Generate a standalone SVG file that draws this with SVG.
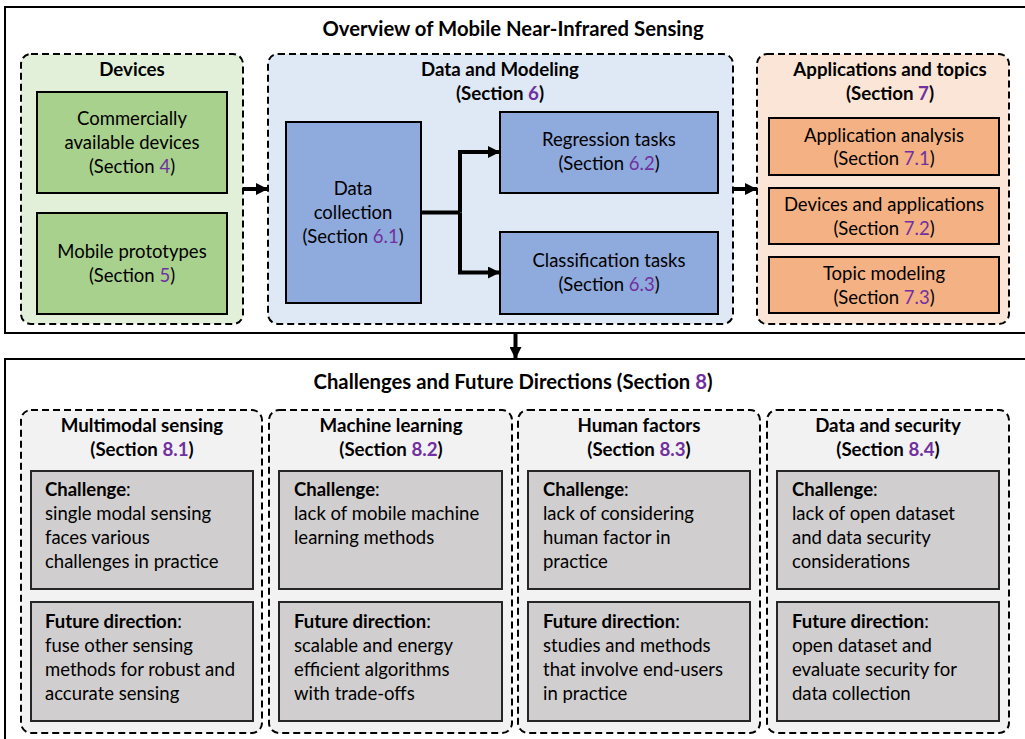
<svg xmlns="http://www.w3.org/2000/svg" width="1025" height="739" viewBox="0 0 1025 739">
<style>
text{font-family:Lato,"Liberation Sans",sans-serif;fill:#000;}
.t{font-size:18.5px;}
.c{text-anchor:middle;}
.b{font-weight:bold;}
.h{font-size:18.7px;font-weight:bold;}
.big{font-size:20.3px;}
.p{fill:#7030a0;}
.outer{fill:#fff;stroke:#000;stroke-width:2;}
.grp{stroke:#000;stroke-width:2;stroke-dasharray:7 4;}
.box{stroke:#000;stroke-width:2;}
.g1{fill:#e2f0d9;}.g2{fill:#dee9f5;}.g3{fill:#fbe5d6;}.g4{fill:#f2f2f2;}
.green{fill:#a9d18e;}.blue{fill:#8faadc;}.orange{fill:#f4b183;}.gray{fill:#d0cece;stroke:#262626;}
.ln{fill:none;stroke:#000;stroke-width:4;}
</style>
<defs>
<marker id="ah" viewBox="0 0 10 10" refX="10" refY="5" markerWidth="3" markerHeight="3" orient="auto" markerUnits="strokeWidth">
<path d="M0,0 L10,5 L0,10 z" fill="#000"/>
</marker>
</defs>
<rect width="1025" height="739" fill="#fff"/>
<g id="overview">
<rect class="outer" x="5" y="7" width="1030" height="326"/>
<text class="h c big" x="513" y="35.5">Overview of Mobile Near-Infrared Sensing</text>
</g>
<g id="devices">
<rect class="grp g1" x="21" y="54" width="222" height="270" rx="10"/>
<text class="h c" x="132" y="76">Devices</text>
</g>
<g id="commercial">
<rect class="box green" x="37" y="92" width="190" height="101"/>
<text class="t c" x="132" y="125">Commercially</text>
<text class="t c" x="132" y="148.5">available devices</text>
<text class="t c" x="132" y="172.5">(Section <tspan class="p">4</tspan>)</text>
</g>
<g id="prototypes">
<rect class="box green" x="37" y="213" width="190" height="101"/>
<text class="t c" x="132" y="257.5">Mobile prototypes</text>
<text class="t c" x="132" y="281.5">(Section <tspan class="p">5</tspan>)</text>
</g>
<g id="datamodeling">
<rect class="grp g2" x="268" y="54" width="465" height="270" rx="10"/>
<text class="h c" x="500" y="76">Data and Modeling</text>
<text class="h c" x="500" y="99.5">(Section <tspan class="p">6</tspan>)</text>
</g>
<g id="datacollection">
<rect class="box blue" x="286" y="122" width="135" height="181"/>
<text class="t c" x="353" y="195">Data</text>
<text class="t c" x="353" y="219">collection</text>
<text class="t c" x="353" y="242.5">(Section <tspan class="p">6.1</tspan>)</text>
</g>
<g id="regression">
<rect class="box blue" x="500" y="112" width="218" height="81"/>
<text class="t c" x="609" y="146">Regression tasks</text>
<text class="t c" x="609" y="170">(Section <tspan class="p">6.2</tspan>)</text>
</g>
<g id="classification">
<rect class="box blue" x="500" y="232" width="218" height="82"/>
<text class="t c" x="609" y="266.5">Classification tasks</text>
<text class="t c" x="609" y="290.5">(Section <tspan class="p">6.3</tspan>)</text>
</g>
<g id="applications">
<rect class="grp g3" x="757" y="54" width="252" height="270" rx="10"/>
<text class="h c" x="890" y="76">Applications and topics</text>
<text class="h c" x="890" y="99.5">(Section <tspan class="p">7</tspan>)</text>
</g>
<g id="appanalysis">
<rect class="box orange" x="769" y="118" width="230" height="57"/>
<text class="t c" x="884" y="141.5">Application analysis</text>
<text class="t c" x="884" y="165">(Section <tspan class="p">7.1</tspan>)</text>
</g>
<g id="devapps">
<rect class="box orange" x="769" y="188" width="230" height="56"/>
<text class="t c" x="884" y="210.5">Devices and applications</text>
<text class="t c" x="884" y="234.5">(Section <tspan class="p">7.2</tspan>)</text>
</g>
<g id="topic">
<rect class="box orange" x="769" y="257" width="230" height="56"/>
<text class="t c" x="884" y="279.5">Topic modeling</text>
<text class="t c" x="884" y="303.5">(Section <tspan class="p">7.3</tspan>)</text>
</g>
<g id="challenges">
<rect class="outer" x="5" y="359" width="1030" height="400"/>
<text class="h c big" x="513" y="388.5">Challenges and Future Directions (Section <tspan class="p">8</tspan>)</text>
</g>
<g id="multimodal">
<rect class="grp g4" x="21" y="410" width="241" height="323" rx="10"/>
<text class="h c" x="142" y="431.5">Multimodal sensing</text>
<text class="h c" x="142" y="455.5">(Section <tspan class="p">8.1</tspan>)</text>
<rect class="box gray" x="31" y="471" width="222" height="118"/>
<text class="t" x="45" y="495.5"><tspan class="b">Challenge</tspan>:</text>
<text class="t" x="45" y="519.5">single modal sensing</text>
<text class="t" x="45" y="543.5">faces various</text>
<text class="t" x="45" y="567.5">challenges in practice</text>
<rect class="box gray" x="31" y="602" width="222" height="119"/>
<text class="t" x="45" y="627.5"><tspan class="b">Future direction</tspan>:</text>
<text class="t" x="45" y="651.5">fuse other sensing</text>
<text class="t" x="45" y="675.5">methods for robust and</text>
<text class="t" x="45" y="699.5">accurate sensing</text>
</g>
<g id="machinelearning">
<rect class="grp g4" x="269" y="410" width="243" height="323" rx="10"/>
<text class="h c" x="391" y="431.5">Machine learning</text>
<text class="h c" x="391" y="455.5">(Section <tspan class="p">8.2</tspan>)</text>
<rect class="box gray" x="279" y="471" width="223" height="118"/>
<text class="t" x="294" y="495.5"><tspan class="b">Challenge</tspan>:</text>
<text class="t" x="294" y="519.5">lack of mobile machine</text>
<text class="t" x="294" y="543.5">learning methods</text>
<rect class="box gray" x="279" y="602" width="223" height="119"/>
<text class="t" x="294" y="627.5"><tspan class="b">Future direction</tspan>:</text>
<text class="t" x="294" y="651.5">scalable and energy</text>
<text class="t" x="294" y="675.5">efficient algorithms</text>
<text class="t" x="294" y="699.5">with trade-offs</text>
</g>
<g id="humanfactors">
<rect class="grp g4" x="518" y="410" width="242" height="323" rx="10"/>
<text class="h c" x="639" y="431.5">Human factors</text>
<text class="h c" x="639" y="455.5">(Section <tspan class="p">8.3</tspan>)</text>
<rect class="box gray" x="528" y="471" width="222" height="118"/>
<text class="t" x="543" y="495.5"><tspan class="b">Challenge</tspan>:</text>
<text class="t" x="543" y="519.5">lack of considering</text>
<text class="t" x="543" y="543.5">human factor in</text>
<text class="t" x="543" y="567.5">practice</text>
<rect class="box gray" x="528" y="602" width="222" height="119"/>
<text class="t" x="543" y="627.5"><tspan class="b">Future direction</tspan>:</text>
<text class="t" x="543" y="651.5">studies and methods</text>
<text class="t" x="543" y="675.5">that involve end-users</text>
<text class="t" x="543" y="699.5">in practice</text>
</g>
<g id="datasecurity">
<rect class="grp g4" x="767" y="410" width="242" height="323" rx="10"/>
<text class="h c" x="888" y="431.5">Data and security</text>
<text class="h c" x="888" y="455.5">(Section <tspan class="p">8.4</tspan>)</text>
<rect class="box gray" x="777" y="471" width="222" height="118"/>
<text class="t" x="792" y="495.5"><tspan class="b">Challenge</tspan>:</text>
<text class="t" x="792" y="519.5">lack of open dataset</text>
<text class="t" x="792" y="543.5">and data security</text>
<text class="t" x="792" y="567.5">considerations</text>
<rect class="box gray" x="777" y="602" width="222" height="119"/>
<text class="t" x="792" y="627.5"><tspan class="b">Future direction</tspan>:</text>
<text class="t" x="792" y="651.5">open dataset and</text>
<text class="t" x="792" y="675.5">evaluate security for</text>
<text class="t" x="792" y="699.5">data collection</text>
</g>
<g id="connectors">
<path class="ln" d="M243,189 H268" marker-end="url(#ah)"/>
<path class="ln" d="M733,189 H757" marker-end="url(#ah)"/>
<path class="ln" d="M421,212.5 H460"/>
<path class="ln" d="M460,212.5 V152 H500" marker-end="url(#ah)"/>
<path class="ln" d="M460,212.5 V272.5 H500" marker-end="url(#ah)"/>
<path class="ln" d="M515.5,333 V359" marker-end="url(#ah)"/>
</g>
</svg>
